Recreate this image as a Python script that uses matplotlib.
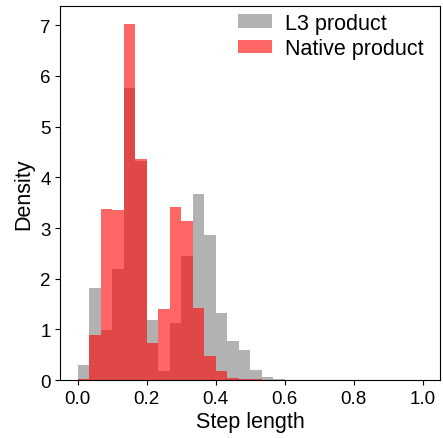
import numpy as np
import matplotlib.pyplot as plt

plt.rcParams['font.family'] = ['Liberation Sans', 'DejaVu Sans']

# 30 bins over [0, 1], density per bin
bin_edges = np.linspace(0, 1, 31)
l3_density = [0.30, 1.81, 0.98, 2.20, 5.77, 4.32, 1.19, 0.18, 1.13, 2.44,
              3.67, 2.86, 1.33, 0.78, 0.60, 0.20, 0.07, 0.03, 0.01, 0.01,
              0.005, 0.005, 0.003, 0.003, 0.003, 0.002, 0.002, 0.002, 0.002, 0.002]
native_density = [0.03, 0.88, 3.37, 3.35, 7.02, 4.36, 0.74, 1.41, 3.41, 3.13,
                  1.43, 0.48, 0.18, 0.04, 0.03, 0.015, 0.005, 0.003, 0.002, 0.005,
                  0.005, 0.002, 0.002, 0.002, 0.005, 0.005, 0.002, 0.002, 0.002, 0.002]

fig = plt.figure(figsize=(4.43, 4.39), dpi=100)
ax = fig.add_axes([0.136, 0.132, 0.857, 0.851])

ax.hist(bin_edges[:-1], bins=bin_edges, weights=l3_density,
        color='gray', alpha=0.6, label='L3 product')
ax.hist(bin_edges[:-1], bins=bin_edges, weights=native_density,
        color='red', alpha=0.6, label='Native product')

ax.set_xlabel('Step length', fontsize=15.5, labelpad=3)
ax.set_ylabel('Density', fontsize=15.5, labelpad=4)
ax.tick_params(labelsize=13.5)
ax.set_xticks([0.0, 0.2, 0.4, 0.6, 0.8, 1.0])
ax.legend(frameon=False, fontsize=15.5, loc='upper right',
          bbox_to_anchor=(0.992, 1.018),
          handlelength=1.6, handleheight=0.6, handletextpad=0.6,
          labelspacing=0.2, borderaxespad=0.2)

plt.savefig('out.png')
